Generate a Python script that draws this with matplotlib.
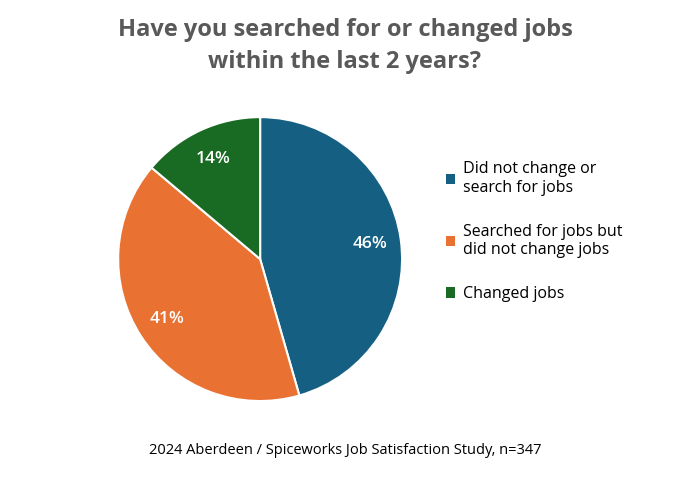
import numpy as np
import matplotlib.pyplot as plt
from matplotlib.patches import Patch

labels = ["Did not change or\nsearch for jobs",
          "Searched for jobs but\ndid not change jobs",
          "Changed jobs"]
values = [46, 41, 14]
colors = ["#156082", "#E97132", "#196B24"]

plt.rcParams["font.family"] = "Open Sans"

fig = plt.figure(figsize=(6.9, 4.82), dpi=100)
ax = fig.add_axes([0.171, 0.168, 0.412, 0.589])

wedges, texts = ax.pie(values, colors=colors, startangle=90, counterclock=False,
                       wedgeprops=dict(edgecolor="white", linewidth=1.5))
for w, v in zip(wedges, values):
    ang = np.deg2rad((w.theta1 + w.theta2) / 2)
    ax.text(0.78 * np.cos(ang), 0.78 * np.sin(ang), f"{v}%", color="white",
            ha="center", va="center", fontsize=12.5, fontweight="semibold")
ax.set_xlim(-1.0, 1.0)
ax.set_ylim(-1.0, 1.0)
ax.set_aspect("equal")

fig.text(0.5, 0.905, "Have you searched for or changed jobs\nwithin the last 2 years?",
         ha="center", va="center", fontsize=17, fontweight="bold", color="#595959",
         linespacing=1.45)

handles = [Patch(facecolor=c) for c in colors]
fig.legend(handles, labels, loc="upper left", bbox_to_anchor=(0.625, 0.695),
           frameon=False, fontsize=11.5, handlelength=0.6, handleheight=0.6,
           handletextpad=0.5, labelspacing=1.75)

fig.text(0.5, 0.066, "2024 Aberdeen / Spiceworks Job Satisfaction Study, n=347",
         ha="center", va="center", fontsize=10.5, color="black")

fig.savefig("out.png", dpi=100)
